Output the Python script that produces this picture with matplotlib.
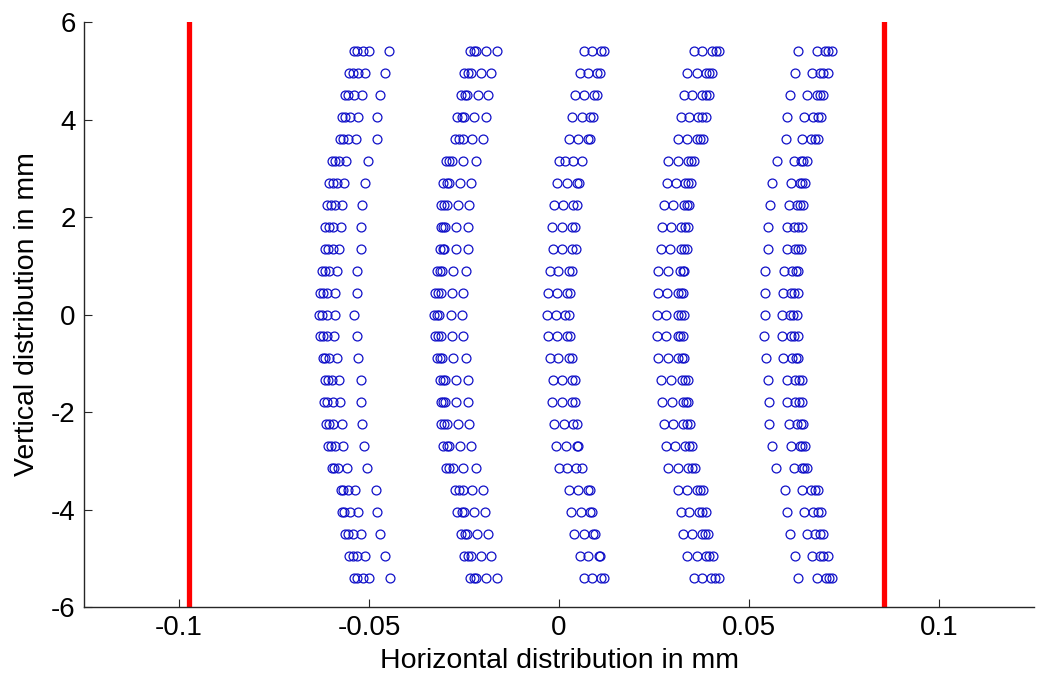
import numpy as np
import matplotlib
matplotlib.use("Agg")
import matplotlib.pyplot as plt

# ---------------------------------------------------------------
# spot diagram: 5 columns of traced points, one row every 0.45 mm
# ---------------------------------------------------------------

y_rows = [5.4, 4.95, 4.5, 4.05, 3.6, 3.15, 2.7, 2.25, 1.8, 1.35, 0.9, 0.45, 0.0,
          -0.45, -0.9, -1.35, -1.8, -2.25, -2.7, -3.15, -3.6, -4.05, -4.5, -4.95, -5.4]

col1_x = [
    [-0.0539, -0.0531, -0.0515, -0.0499, -0.0447],
    [-0.0552, -0.0541, -0.0528, -0.0511, -0.0458],
    [-0.0563, -0.0554, -0.0539, -0.0519, -0.0471],
    [-0.0572, -0.0563, -0.0550, -0.0528, -0.0478],
    [-0.0576, -0.0569, -0.0554, -0.0534, -0.0480],
    [-0.0598, -0.0589, -0.0578, -0.0561, -0.0502],
    [-0.0604, -0.0596, -0.0585, -0.0565, -0.0511],
    [-0.0610, -0.0601, -0.0589, -0.0572, -0.0519],
    [-0.0616, -0.0604, -0.0594, -0.0575, -0.0521],
    [-0.0616, -0.0607, -0.0596, -0.0579, -0.0521],
    [-0.0625, -0.0616, -0.0604, -0.0585, -0.0532],
    [-0.0629, -0.0620, -0.0610, -0.0589, -0.0532],
    [-0.0632, -0.0625, -0.0611, -0.0589, -0.0539],
    [-0.0629, -0.0622, -0.0611, -0.0591, -0.0532],
    [-0.0622, -0.0616, -0.0604, -0.0583, -0.0528],
    [-0.0616, -0.0607, -0.0598, -0.0578, -0.0521],
    [-0.0618, -0.0610, -0.0596, -0.0576, -0.0521],
    [-0.0613, -0.0604, -0.0594, -0.0572, -0.0518],
    [-0.0607, -0.0600, -0.0589, -0.0568, -0.0512],
    [-0.0598, -0.0592, -0.0581, -0.0559, -0.0504],
    [-0.0575, -0.0568, -0.0554, -0.0537, -0.0482],
    [-0.0572, -0.0565, -0.0550, -0.0528, -0.0478],
    [-0.0563, -0.0554, -0.0541, -0.0521, -0.0471],
    [-0.0552, -0.0541, -0.0531, -0.0511, -0.0458],
    [-0.0539, -0.0531, -0.0515, -0.0499, -0.0445],
]

col2_x = [
    [-0.0234, -0.0225, -0.0218, -0.0192, -0.0164],
    [-0.0250, -0.0239, -0.0232, -0.0204, -0.0179],
    [-0.0259, -0.0247, -0.0241, -0.0214, -0.0188],
    [-0.0269, -0.0256, -0.0250, -0.0224, -0.0192],
    [-0.0274, -0.0262, -0.0253, -0.0230, -0.0201],
    [-0.0297, -0.0289, -0.0282, -0.0253, -0.0218],
    [-0.0306, -0.0296, -0.0289, -0.0261, -0.0232],
    [-0.0311, -0.0303, -0.0296, -0.0265, -0.0237],
    [-0.0311, -0.0306, -0.0300, -0.0271, -0.0239],
    [-0.0313, -0.0306, -0.0303, -0.0271, -0.0239],
    [-0.0322, -0.0313, -0.0309, -0.0278, -0.0245],
    [-0.0326, -0.0318, -0.0311, -0.0281, -0.0252],
    [-0.0329, -0.0320, -0.0315, -0.0284, -0.0254],
    [-0.0326, -0.0318, -0.0311, -0.0281, -0.0252],
    [-0.0322, -0.0313, -0.0309, -0.0278, -0.0245],
    [-0.0313, -0.0306, -0.0300, -0.0271, -0.0239],
    [-0.0311, -0.0304, -0.0300, -0.0271, -0.0239],
    [-0.0311, -0.0303, -0.0296, -0.0265, -0.0237],
    [-0.0306, -0.0296, -0.0289, -0.0261, -0.0232],
    [-0.0297, -0.0289, -0.0280, -0.0253, -0.0218],
    [-0.0274, -0.0262, -0.0253, -0.0230, -0.0201],
    [-0.0269, -0.0256, -0.0250, -0.0224, -0.0194],
    [-0.0259, -0.0247, -0.0241, -0.0215, -0.0188],
    [-0.0250, -0.0239, -0.0232, -0.0204, -0.0179],
    [-0.0234, -0.0225, -0.0218, -0.0192, -0.0164],
]

col3_x = [
    [0.0067, 0.0088, 0.0111, 0.0118],
    [0.0054, 0.0077, 0.0099, 0.0108],
    [0.0042, 0.0067, 0.0093, 0.0099],
    [0.0033, 0.0060, 0.0082, 0.0090],
    [0.0027, 0.0051, 0.0077, 0.0082],
    [0.0000, 0.0016, 0.0038, 0.0061],
    [-0.0006, 0.0020, 0.0047, 0.0053],
    [-0.0012, 0.0011, 0.0038, 0.0047],
    [-0.0018, 0.0007, 0.0033, 0.0042],
    [-0.0015, 0.0007, 0.0033, 0.0044],
    [-0.0024, -0.0002, 0.0025, 0.0035],
    [-0.0028, -0.0006, 0.0020, 0.0029],
    [-0.0032, -0.0009, 0.0016, 0.0026],
    [-0.0028, -0.0004, 0.0020, 0.0029],
    [-0.0024, -0.0002, 0.0025, 0.0035],
    [-0.0015, 0.0007, 0.0033, 0.0042],
    [-0.0018, 0.0009, 0.0035, 0.0042],
    [-0.0012, 0.0014, 0.0038, 0.0047],
    [-0.0009, 0.0018, 0.0047, 0.0051],
    [0.0000, 0.0020, 0.0044, 0.0060],
    [0.0025, 0.0051, 0.0077, 0.0082],
    [0.0032, 0.0058, 0.0082, 0.0088],
    [0.0040, 0.0067, 0.0090, 0.0095],
    [0.0054, 0.0077, 0.0104, 0.0108],
    [0.0067, 0.0088, 0.0111, 0.0118],
]

col4_x = [
    [0.0354, 0.0377, 0.0402, 0.0412, 0.0421],
    [0.0338, 0.0362, 0.0387, 0.0396, 0.0402],
    [0.0329, 0.0351, 0.0377, 0.0386, 0.0395],
    [0.0321, 0.0342, 0.0367, 0.0377, 0.0386],
    [0.0314, 0.0336, 0.0362, 0.0371, 0.0380],
    [0.0288, 0.0314, 0.0339, 0.0347, 0.0354],
    [0.0283, 0.0307, 0.0332, 0.0340, 0.0347],
    [0.0277, 0.0301, 0.0330, 0.0336, 0.0342],
    [0.0272, 0.0295, 0.0321, 0.0332, 0.0339],
    [0.0268, 0.0292, 0.0321, 0.0330, 0.0336],
    [0.0261, 0.0288, 0.0318, 0.0325, 0.0330],
    [0.0260, 0.0283, 0.0314, 0.0321, 0.0327],
    [0.0257, 0.0281, 0.0312, 0.0321, 0.0329],
    [0.0257, 0.0281, 0.0312, 0.0318, 0.0325],
    [0.0260, 0.0288, 0.0314, 0.0323, 0.0330],
    [0.0268, 0.0296, 0.0323, 0.0332, 0.0339],
    [0.0272, 0.0298, 0.0325, 0.0333, 0.0340],
    [0.0277, 0.0301, 0.0327, 0.0336, 0.0345],
    [0.0281, 0.0305, 0.0332, 0.0342, 0.0351],
    [0.0288, 0.0314, 0.0339, 0.0349, 0.0358],
    [0.0314, 0.0336, 0.0362, 0.0371, 0.0380],
    [0.0321, 0.0342, 0.0368, 0.0377, 0.0386],
    [0.0327, 0.0351, 0.0375, 0.0384, 0.0391],
    [0.0338, 0.0362, 0.0387, 0.0396, 0.0406],
    [0.0354, 0.0375, 0.0400, 0.0411, 0.0421],
]

col5_x = [
    [0.0630, 0.0680, 0.0700, 0.0709, 0.0718],
    [0.0621, 0.0665, 0.0687, 0.0696, 0.0707],
    [0.0608, 0.0652, 0.0678, 0.0687, 0.0696],
    [0.0601, 0.0646, 0.0669, 0.0682, 0.0689],
    [0.0597, 0.0639, 0.0663, 0.0674, 0.0682],
    [0.0573, 0.0619, 0.0637, 0.0643, 0.0652],
    [0.0560, 0.0611, 0.0634, 0.0640, 0.0647],
    [0.0555, 0.0604, 0.0625, 0.0634, 0.0643],
    [0.0551, 0.0599, 0.0619, 0.0630, 0.0639],
    [0.0551, 0.0599, 0.0621, 0.0630, 0.0637],
    [0.0542, 0.0593, 0.0614, 0.0623, 0.0630],
    [0.0542, 0.0590, 0.0611, 0.0619, 0.0628],
    [0.0542, 0.0586, 0.0608, 0.0617, 0.0625],
    [0.0540, 0.0588, 0.0611, 0.0619, 0.0628],
    [0.0544, 0.0590, 0.0614, 0.0623, 0.0628],
    [0.0551, 0.0599, 0.0621, 0.0632, 0.0639],
    [0.0553, 0.0599, 0.0621, 0.0632, 0.0640],
    [0.0553, 0.0604, 0.0625, 0.0636, 0.0643],
    [0.0560, 0.0611, 0.0634, 0.0640, 0.0647],
    [0.0570, 0.0619, 0.0639, 0.0646, 0.0652],
    [0.0595, 0.0639, 0.0663, 0.0674, 0.0682],
    [0.0601, 0.0646, 0.0669, 0.0681, 0.0689],
    [0.0608, 0.0652, 0.0674, 0.0687, 0.0696],
    [0.0621, 0.0665, 0.0687, 0.0696, 0.0707],
    [0.0630, 0.0680, 0.0702, 0.0711, 0.0719],
]

# limits of the slit (red lines)
edge_left = -0.0975
edge_right = 0.0855

x_ticks = [-0.1, -0.05, 0, 0.05, 0.1]
x_tick_labels = ["-0.1", "-0.05", "0", "0.05", "0.1"]
y_ticks = [-6, -4, -2, 0, 2, 4, 6]
y_tick_labels = ["-6", "-4", "-2", "0", "2", "4", "6"]

plt.rcParams['font.family'] = ['Liberation Sans', 'DejaVu Sans']

fig = plt.figure(figsize=(10.49, 6.78), dpi=100)
ax = fig.add_axes([0.0801, 0.1047, 0.9056, 0.8628])

for col in [col1_x, col2_x, col3_x, col4_x, col5_x]:
    xs, ys = [], []
    for y, row in zip(y_rows, col):
        xs.extend(row)
        ys.extend([y] * len(row))
    ax.plot(xs, ys, 'o', mfc='none', mec='#1010c8', ms=6.4, mew=0.9, ls='none')

ax.axvline(edge_left, color='red', lw=3.8)
ax.axvline(edge_right, color='red', lw=3.8)

ax.set_xlim(-0.125, 0.125)
ax.set_ylim(-6, 6)
ax.set_xticks(x_ticks)
ax.set_xticklabels(x_tick_labels)
ax.set_yticks(y_ticks)
ax.set_yticklabels(y_tick_labels)

ax.spines['top'].set_visible(False)
ax.spines['right'].set_visible(False)
for s in ['left', 'bottom']:
    ax.spines[s].set_color('#262626')
    ax.spines[s].set_linewidth(1.0)
ax.tick_params(direction='in', length=6, width=0.8, colors='#262626',
               labelsize=20, labelcolor='black', pad=6)

ax.set_xlabel('Horizontal distribution in mm', fontsize=20.5, labelpad=5)
ax.set_ylabel('Vertical distribution in mm', fontsize=20.5, labelpad=8)

fig.savefig('out.png', dpi=100)
